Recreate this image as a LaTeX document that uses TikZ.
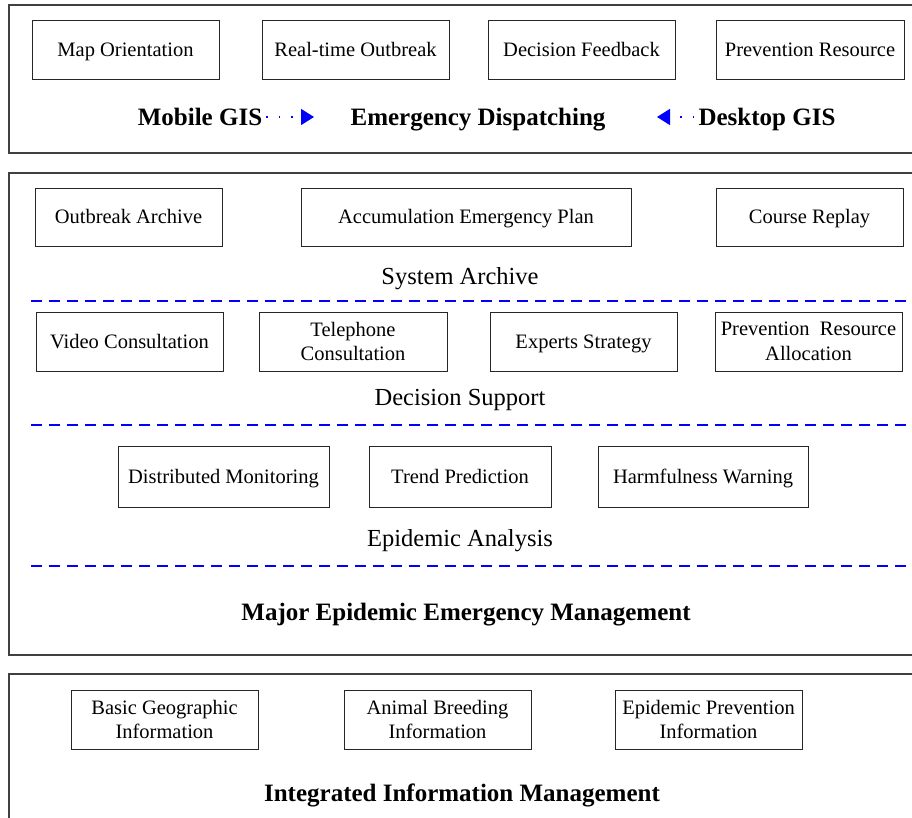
\documentclass[tikz,border=0pt]{standalone}
\usepackage{fontspec}
\setmainfont{Liberation Serif}
\usetikzlibrary{arrows.meta}
\begin{document}
\begin{tikzpicture}[x=1pt,y=-1pt,
  outer/.style={draw=black!75,line width=1.3pt},
  ibox/.style={draw=black!85,line width=0.9pt,inner sep=0pt,align=center,
    font=\fontsize{20.5}{24.5}\selectfont},
  one/.style={text height=15pt,text depth=1.4pt},
  lbl/.style={inner sep=0pt,text height=17.5pt,text depth=1.3pt,font=\fontsize{24.5}{28}\selectfont},
  blbl/.style={inner sep=0pt,text height=18pt,text depth=1.5pt,font=\fontsize{25}{29}\selectfont\bfseries},
  sep/.style={draw=blue,line width=1.5pt,dash pattern=on 11pt off 7pt},
  garrow/.style={draw=blue,line width=1.5pt,dash pattern=on 1.5pt off 11pt,
    -{Triangle[length=13pt,width=16pt,fill=blue]}}
]
\useasboundingbox (0,0) rectangle (912,818);
% outer frames
\draw[outer] (9,5) rectangle (916,153);
\draw[outer] (9,173) rectangle (916,655);
\draw[outer] (9,674) rectangle (916,840);

% ---- Emergency Dispatching ----
\node[ibox,one,minimum width=187pt,minimum height=59pt] (mo) at (125.5,49.5) {Map Orientation};
\node[ibox,one,minimum width=187pt,minimum height=59pt] (ro) at (355.5,49.5) {Real-time Outbreak};
\node[ibox,one,minimum width=187pt,minimum height=59pt] (df) at (581.5,49.5) {Decision Feedback};
\node[ibox,one,minimum width=188pt,minimum height=59pt] (pr) at (810,49.5) {Prevention Resource};

\node[blbl] (mob) at (200,117) {Mobile GIS};
\node[blbl] (ed) at (478,117) {Emergency Dispatching};
\node[blbl] (desk) at (767,117) {Desktop GIS};
\coordinate (a1) at (314,117);
\coordinate (a2) at (657,117);
\draw[garrow] ([xshift=4pt]mob.east) -- (a1);
\draw[garrow] ([xshift=-4pt]desk.west) -- (a2);

% ---- Major Epidemic Emergency Management ----
\node[ibox,one,minimum width=187pt,minimum height=58pt] (oa) at (128.5,217) {Outbreak Archive};
\node[ibox,one,minimum width=330pt,minimum height=58pt] (aep) at (466,217) {Accumulation Emergency Plan};
\node[ibox,one,minimum width=187pt,minimum height=58pt] (cr) at (809.5,217) {Course Replay};
\node[lbl] (sa) at (460,276) {System Archive};
\draw[sep] (31,301) -- (910,301);

\node[ibox,one,minimum width=187pt,minimum height=59pt] (vc) at (129.5,341.5) {Video Consultation};
\node[ibox,minimum width=188pt,minimum height=59pt] (tc) at (353,341.5) {Telephone\\Consultation};
\node[ibox,one,minimum width=187pt,minimum height=59pt] (es) at (583.5,341.5) {Experts Strategy};
\node[ibox,minimum width=187pt,minimum height=59pt] (pra) at (808.5,341.5) {Prevention~~Resource\\Allocation};
\node[lbl] (ds) at (460,397) {Decision Support};
\draw[sep] (31,425) -- (910,425);

\node[ibox,one,minimum width=211pt,minimum height=61pt] (dm) at (223.5,476.5) {Distributed Monitoring};
\node[ibox,one,minimum width=182pt,minimum height=61pt] (tp) at (460,476.5) {Trend Prediction};
\node[ibox,one,minimum width=210pt,minimum height=61pt] (hw) at (703,476.5) {Harmfulness Warning};
\node[lbl] (ea) at (460,538) {Epidemic Analysis};
\draw[sep] (31,566) -- (910,566);
\node[blbl] (meem) at (466,612) {Major Epidemic Emergency Management};

% ---- Integrated Information Management ----
\node[ibox,minimum width=187pt,minimum height=59pt] (bgi) at (164.5,719.5) {Basic Geographic\\Information};
\node[ibox,minimum width=187pt,minimum height=59pt] (abi) at (437.5,719.5) {Animal Breeding\\Information};
\node[ibox,minimum width=187pt,minimum height=59pt] (epi) at (708.5,719.5) {Epidemic Prevention\\Information};
\node[blbl] (iim) at (462,793) {Integrated Information Management};
\end{tikzpicture}
\end{document}
